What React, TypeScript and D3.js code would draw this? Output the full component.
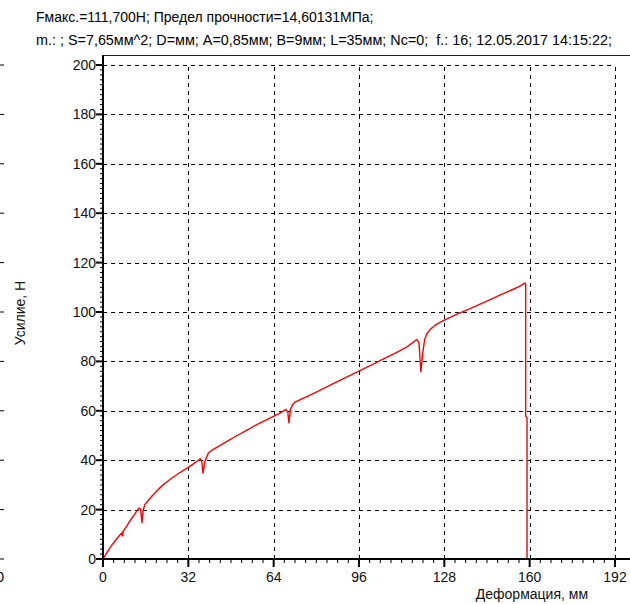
import React from "react";
import * as d3 from "d3";

const W = 630;
const H = 604;

const titleLines = [
  "Fмакс.=111,700Н; Предел прочности=14,60131МПа;",
  "m.: ; S=7,65мм^2; D=мм; A=0,85мм; B=9мм; L=35мм; Nc=0;  f.: 16; 12.05.2017 14:15:22;",
];
const xLabel = "Деформация, мм";
const yLabel = "Усилие, Н";

const xTicks = [0, 32, 64, 96, 128, 160, 192];
const yTicks = [0, 20, 40, 60, 80, 100, 120, 140, 160, 180, 200];

// deformation (mm)
const deform = [
  0, 1, 2, 3, 4, 5, 6, 7.1, 7.3, 7.6, 9, 10, 11, 12, 13, 13.5, 14.1, 14.6, 15.0, 15.7,
  17, 18.5, 20, 22, 24, 26, 28, 30, 32, 34, 35.5, 36.4, 37.0, 37.5, 38.2, 39.5, 40.9,
  43, 46, 50, 54, 58, 62, 66, 68.6, 69.3, 69.7, 70.3, 71, 72, 75, 80, 85, 90, 96, 100,
  105, 110, 114, 117.7, 118.5, 119.2, 119.8, 120.6, 121.5, 122.6, 124.5, 126.5, 129,
  133, 137, 141, 145, 149, 153, 156, 158.2, 158.5, 158.5, 159.0, 159.0,
];
// force (N)
const force = [
  0, 1.8, 3.5, 5.2, 6.6, 8, 9.3, 10.6, 9.2, 11.2, 13.5, 15.2, 16.8, 18.4, 19.9, 20.6, 20.2, 14.6, 19.5, 22.0,
  23.8, 25.6, 27.3, 29.5, 31.3, 32.9, 34.4, 35.8, 37.1, 38.6, 39.8, 40.6, 39.9, 34.6, 39.5, 42.8, 44.1,
  45.4, 47.3, 49.8, 52.2, 54.6, 56.7, 58.9, 60.6, 59.5, 55.0, 60.5, 62.3, 63.5, 65.0, 67.6, 70.3, 72.9, 76.1, 78.2,
  80.9, 83.6, 85.9, 88.9, 87.5, 75.6, 82.5, 88.8, 91.3, 92.8, 94.6, 95.9, 97.2,
  99.2, 101.1, 103.0, 104.9, 106.9, 108.8, 110.3, 111.7, 111.5, 57.8, 57.2, 0,
];

const m = { left: 103, right: 615, top: 65, bottom: 559 };

export default function App() {
  const x = d3.scaleLinear().domain([0, 192]).range([m.left, m.right]);
  const y = d3.scaleLinear().domain([0, 200]).range([m.bottom, m.top]);
  const pts: [number, number][] = deform.map((d, i) => [d, force[i]]);
  const line = d3
    .line<[number, number]>()
    .x((d) => x(d[0]))
    .y((d) => y(d[1]));

  const xMinor = d3.range(0, 193, 4).filter((v) => v % 32 !== 0);
  const yMinor = d3.range(0, 201, 2).filter((v) => v % 20 !== 0);
  const font = "'Liberation Sans', Arial, sans-serif";

  return (
    <svg
      width={W}
      height={H}
      style={{ position: "fixed", left: 0, top: 0, background: "#fff" }}
      fontFamily={font}
    >
      <rect x={0} y={0} width={W} height={H} fill="#fff" />
      <text x={36} y={22} fontSize={14} fill="#000" style={{ whiteSpace: "pre" }}>
        {titleLines[0]}
      </text>
      <text x={36} y={45} fontSize={14} fill="#000" textLength={576} lengthAdjust="spacingAndGlyphs" style={{ whiteSpace: "pre" }}>
        {titleLines[1]}
      </text>

      {/* stray left ticks */}
      {yTicks.map((v) => (
        <line key={"s" + v} x1={0} x2={4} y1={y(v)} y2={y(v)} stroke="#000" strokeWidth={1} />
      ))}
      <text x={4} y={582} fontSize={14} textAnchor="end" fill="#000">0</text>

      {/* frame top */}
      <line x1={m.left} x2={W} y1={55.5} y2={55.5} stroke="#222" strokeWidth={1} />

      {/* grid */}
      {xTicks
        .filter((v) => v > 0)
        .map((v) => (
          <line
            key={"gx" + v}
            x1={Math.round(x(v)) + 0.5}
            x2={Math.round(x(v)) + 0.5}
            y1={m.bottom}
            y2={m.top}
            stroke="#000"
            strokeDasharray="4,4"
          />
        ))}
      {yTicks
        .filter((v) => v > 0)
        .map((v) => (
          <line
            key={"gy" + v}
            x1={m.left}
            x2={m.right}
            y1={Math.round(y(v)) + 0.5}
            y2={Math.round(y(v)) + 0.5}
            stroke="#000"
            strokeDasharray="4,4"
          />
        ))}

      {/* data */}
      <path d={line(pts) || ""} fill="none" stroke="#ff0000" strokeWidth={1.4} />

      {/* axes */}
      <line x1={m.left} x2={m.left} y1={55} y2={m.bottom + 1} stroke="#000" strokeWidth={2} />
      <line x1={m.left - 1} x2={W} y1={m.bottom} y2={m.bottom} stroke="#000" strokeWidth={2} />

      {yMinor.map((v) => (
        <line key={"ym" + v} x1={m.left - 3} x2={m.left} y1={y(v)} y2={y(v)} stroke="#000" strokeWidth={1} />
      ))}
      {yTicks.map((v) => (
        <g key={"yt" + v}>
          <line x1={m.left - 7} x2={m.left} y1={y(v)} y2={y(v)} stroke="#000" strokeWidth={2} />
          <text x={m.left - 7} y={y(v) + 5} fontSize={14} textAnchor="end" fill="#111">
            {v}
          </text>
        </g>
      ))}
      {xMinor.map((v) => (
        <line key={"xm" + v} x1={x(v)} x2={x(v)} y1={m.bottom} y2={m.bottom + 4} stroke="#000" strokeWidth={1} />
      ))}
      {xTicks.map((v) => (
        <g key={"xt" + v}>
          <line x1={x(v)} x2={x(v)} y1={m.bottom} y2={m.bottom + 8} stroke="#000" strokeWidth={2} />
          <text x={x(v)} y={m.bottom + 23} fontSize={14} textAnchor="middle" fill="#111">
            {v}
          </text>
        </g>
      ))}

      <text x={588} y={599} fontSize={14} textAnchor="end" fill="#111">
        {xLabel}
      </text>
      <text
        transform={`translate(25, ${313}) rotate(-90)`}
        fontSize={14}
        textAnchor="middle"
        fill="#111"
      >
        {yLabel}
      </text>
    </svg>
  );
}
